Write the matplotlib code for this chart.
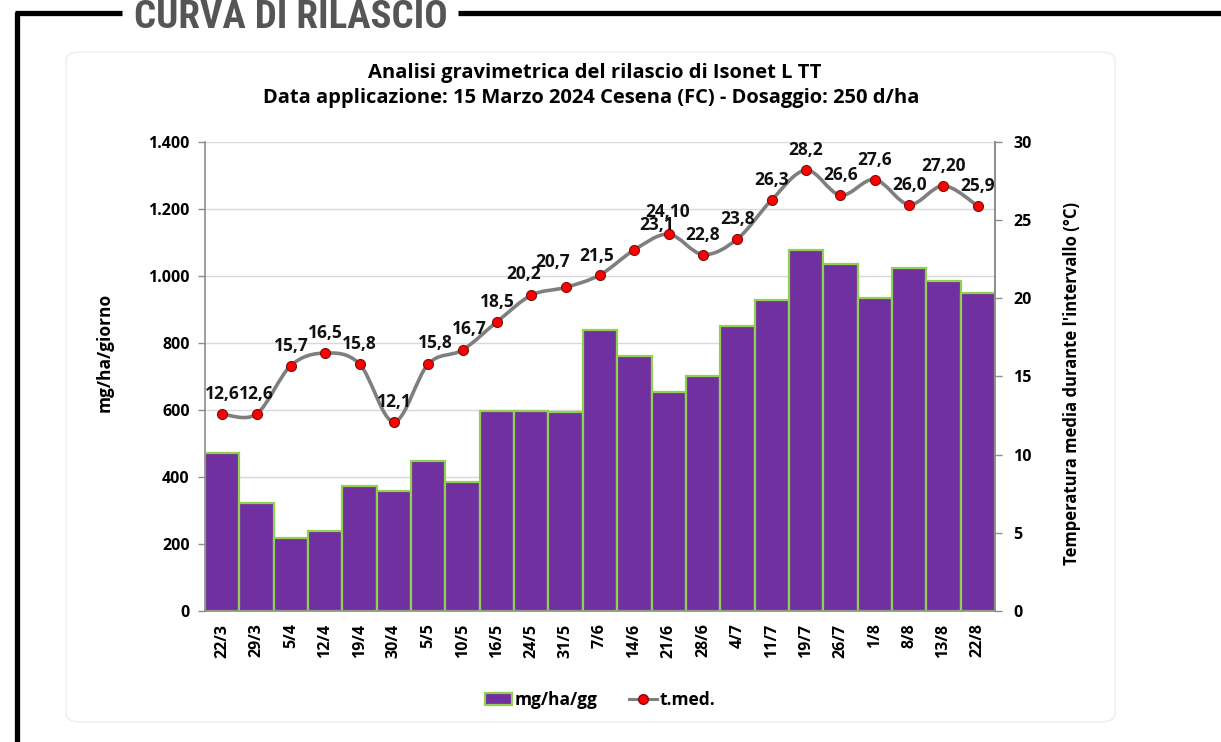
import matplotlib
matplotlib.use("Agg")
import matplotlib.pyplot as plt
from matplotlib.path import Path
from matplotlib.patches import PathPatch, Patch, FancyBboxPatch
from matplotlib.lines import Line2D
import numpy as np

categories = ["22/3", "29/3", "5/4", "12/4", "19/4", "30/4", "5/5", "10/5", "16/5", "24/5",
              "31/5", "7/6", "14/6", "21/6", "28/6", "4/7", "11/7", "19/7", "26/7", "1/8",
              "8/8", "13/8", "22/8"]
release = [471, 322, 218, 239, 373, 358, 448, 385, 598, 596, 594, 838, 762, 655, 702,
           852, 928, 1078, 1036, 933, 1023, 986, 948]
temperature = [12.6, 12.6, 15.7, 16.5, 15.8, 12.1, 15.8, 16.7, 18.5, 20.2, 20.7, 21.5,
               23.1, 24.10, 22.8, 23.8, 26.3, 28.2, 26.6, 27.6, 26.0, 27.20, 25.9]
temp_labels = ["12,6", "12,6", "15,7", "16,5", "15,8", "12,1", "15,8", "16,7", "18,5", "20,2",
               "20,7", "21,5", "23,1", "24,10", "22,8", "23,8", "26,3", "28,2", "26,6", "27,6",
               "26,0", "27,20", "25,9"]
left_ticks = [0, 200, 400, 600, 800, 1000, 1200, 1400]
left_ticklabels = ["0", "200", "400", "600", "800", "1.000", "1.200", "1.400"]
right_ticks = [0, 5, 10, 15, 20, 25, 30]

# label offsets in pixels (dx, dy) relative to the point
label_offsets = {6: (7, 21), 7: (7, 21), 9: (-8, 21), 10: (-13, 25), 11: (-3, 19),
                 12: (22, 25), 13: (-1, 22)}

FONT = ["Open Sans", "DejaVu Sans"]
PURPLE = "#7030A0"
GREEN = "#92D050"
AXGRAY = "#8c8c8c"

fig = plt.figure(figsize=(12.21, 7.42), dpi=100)
fig.patch.set_facecolor("white")

W, H = 1221, 742
def fx(p): return p / W
def fy(p): return 1 - p / H

# outer frame + section title
fig.add_artist(Line2D([fx(15), fx(122)], [fy(13), fy(13)], color="black", lw=3.8,
                      solid_capstyle="butt"))
fig.add_artist(Line2D([fx(458), fx(1221)], [fy(13), fy(13)], color="black", lw=3.8,
                      solid_capstyle="butt"))
fig.add_artist(Line2D([fx(16.5), fx(16.5)], [fy(11.5), fy(742)], color="black", lw=3.8,
                      solid_capstyle="butt"))
fig.text(fx(291), fy(28), "CURVA DI RILASCIO", ha="center", va="baseline",
         fontsize=28, fontweight="bold", color="#555555", fontstretch="condensed",
         family=["Roboto Condensed", "Liberation Sans Narrow", "DejaVu Sans"])

# panel
panel = FancyBboxPatch((fx(66), fy(722)), fx(1115) - fx(66), fy(52) - fy(722),
                       boxstyle="round,pad=0,rounding_size=0.012",
                       transform=fig.transFigure, facecolor="white",
                       edgecolor="#eeeeee", lw=1.0, zorder=0)
fig.add_artist(panel)

ax = fig.add_axes([fx(205), fy(611), fx(995) - fx(205), fy(142) - fy(611)])
ax.set_facecolor("none")
x = np.arange(len(categories))
ax.bar(x, release, width=1.0, color=PURPLE, edgecolor=GREEN, linewidth=1.6, zorder=2)
ax.set_xlim(-0.5, len(categories) - 0.5)
ax.set_ylim(0, 1400)
ax.set_yticks(left_ticks)
ax.set_yticklabels(left_ticklabels)
ax.set_xticks(x)
ax.set_xticklabels(categories, rotation=90)
ax.yaxis.grid(True, color="#d9d9d9", lw=1.0, zorder=0)
ax.set_axisbelow(True)
ax.spines["top"].set_visible(False)
for s in ["left", "bottom", "right"]:
    ax.spines[s].set_color(AXGRAY)
    ax.spines[s].set_linewidth(1.2)
ax.tick_params(axis="y", length=5, width=1, color=AXGRAY, pad=6)
ax.tick_params(axis="x", length=0, pad=9)
for lab in ax.get_yticklabels():
    lab.set_fontweight("bold")
    lab.set_fontsize(11.5)
    lab.set_family(FONT)
for lab in ax.get_xticklabels():
    lab.set_fontweight("bold")
    lab.set_fontsize(11.5)
    lab.set_family(FONT)
ax.set_ylabel("mg/ha/giorno", fontsize=12.5, fontweight="bold", family=FONT)
ax.yaxis.set_label_coords((105 - 205) / 790, (611 - 352) / 469)
ax.yaxis.label.set_verticalalignment("center")

ax2 = ax.twinx()
ax2.set_ylim(0, 30)
ax2.set_yticks(right_ticks)
for s in ["top", "left", "bottom"]:
    ax2.spines[s].set_visible(False)
ax2.spines["right"].set_color(AXGRAY)
ax2.spines["right"].set_linewidth(1.2)
ax2.tick_params(axis="y", length=5, width=1, color=AXGRAY, pad=8)
for lab in ax2.get_yticklabels():
    lab.set_fontweight("bold")
    lab.set_fontsize(11.5)
    lab.set_family(FONT)
ax2.set_ylabel("Temperatura media durante l'intervallo (°C)", fontsize=12,
               fontweight="bold", family=FONT)
ax2.yaxis.set_label_coords((1072 - 205) / 790, (611 - 384) / 469)
ax2.yaxis.label.set_verticalalignment("center")

# smoothed line (Excel-like bezier smoothing through the data points)
xs = np.asarray(x, dtype=float)
ys = np.asarray(temperature, dtype=float)
n = len(xs)
verts = [(xs[0], ys[0])]
codes = [Path.MOVETO]
for i in range(n - 1):
    p_prev = np.array([xs[max(i - 1, 0)], ys[max(i - 1, 0)]])
    p0 = np.array([xs[i], ys[i]])
    p1 = np.array([xs[i + 1], ys[i + 1]])
    p_next = np.array([xs[min(i + 2, n - 1)], ys[min(i + 2, n - 1)]])
    c1 = p0 + (p1 - p_prev) / 6.0
    c2 = p1 - (p_next - p0) / 6.0
    verts += [tuple(c1), tuple(c2), tuple(p1)]
    codes += [Path.CURVE4, Path.CURVE4, Path.CURVE4]
ax2.add_patch(PathPatch(Path(verts, codes), fill=False, edgecolor="#7f7f7f", lw=2.6,
                        zorder=3, capstyle="round", joinstyle="round"))
ax2.plot(xs, ys, linestyle="none", marker="o", markersize=7.2, markerfacecolor="#ff0000",
         markeredgecolor="#7a1010", markeredgewidth=0.8, zorder=4)

for i, (xv, yv, lab) in enumerate(zip(xs, ys, temp_labels)):
    dx, dy = label_offsets.get(i, (0, 20))
    ax2.annotate(lab, (xv, yv), xytext=(dx * 0.72, dy * 0.72), textcoords="offset points",
                 ha="center", va="center", fontsize=12.5, fontweight="bold",
                 family=FONT, color="#111111", zorder=5)

# chart title
fig.text(fx(595), fy(73), "Analisi gravimetrica del rilascio di Isonet L TT",
         ha="center", va="center", fontsize=14.5, fontweight="bold", family=FONT)
fig.text(fx(591), fy(98), "Data applicazione: 15 Marzo 2024 Cesena (FC) - Dosaggio: 250 d/ha",
         ha="center", va="center", fontsize=14.5, fontweight="bold", family=FONT)

handles = [Patch(facecolor=PURPLE, edgecolor=GREEN, linewidth=1.6),
           Line2D([0], [0], color="#7f7f7f", lw=2.2, marker="o", markersize=7,
                  markerfacecolor="#ff0000", markeredgecolor="#7a1010")]
leg = fig.legend(handles, ["mg/ha/gg", "t.med."], loc="center",
                 bbox_to_anchor=(fx(600), fy(700)), ncol=2, frameon=False,
                 prop={"family": FONT, "weight": "bold", "size": 12.5},
                 handlelength=1.6, handletextpad=0.15, columnspacing=1.8)

fig.savefig("out.png", dpi=100, facecolor="white")
